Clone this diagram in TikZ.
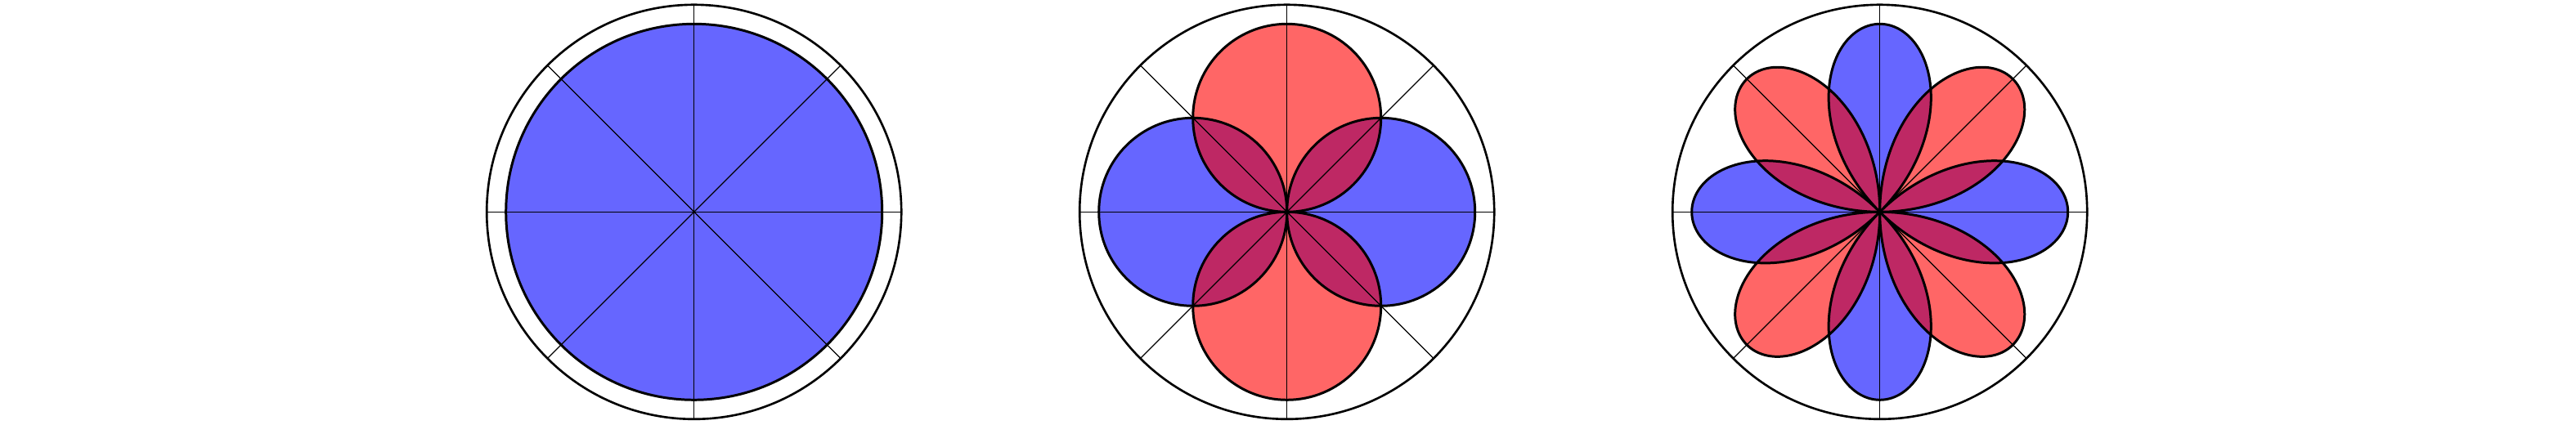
\documentclass[tikz,border=0pt]{standalone}
\definecolor{lobeblue}{RGB}{102,102,255}
\definecolor{lobered}{RGB}{255,102,102}
\definecolor{lobemix}{RGB}{190,40,100}
\begin{document}
\begin{tikzpicture}[
  outer/.style={line width=0.75pt},
  lobe/.style={line width=0.85pt, line join=round},
  axisline/.style={line width=0.35pt},
  qlobe/.style={insert path={plot[domain=-45:45,samples=121,smooth,variable=\t] ({\R*cos(2*\t)*cos(\t+#1)},{\R*cos(2*\t)*sin(\t+#1)})}},
  bluequad/.style={qlobe=0,qlobe=90,qlobe=180,qlobe=270},
  redquad/.style={qlobe=45,qlobe=135,qlobe=225,qlobe=315},
]
\def\R{2.3}
\def\Ro{2.535}
\useasboundingbox (0,0) rectangle (31.5,5.2);

% ---------- panel 1 ----------
\begin{scope}[shift={(8.487,2.607)}]
  \fill[lobeblue] (0,0) circle (\R);
  \draw[lobe] (0,0) circle (\R);
  \draw[outer] (0,0) circle (\Ro);
  \foreach \a in {0,45,90,135} \draw[axisline] (\a:\Ro) -- (\a+180:\Ro);
\end{scope}

% ---------- panel 2 ----------
\begin{scope}[shift={(15.737,2.607)}]
  \fill[lobeblue] (\R/2,0) circle (\R/2) (-\R/2,0) circle (\R/2);
  \fill[lobered] (0,\R/2) circle (\R/2) (0,-\R/2) circle (\R/2);
  \begin{scope}
    \clip (\R/2,0) circle (\R/2) (-\R/2,0) circle (\R/2);
    \fill[lobemix] (0,\R/2) circle (\R/2) (0,-\R/2) circle (\R/2);
  \end{scope}
  \draw[lobe] (\R/2,0) circle (\R/2) (-\R/2,0) circle (\R/2)
              (0,\R/2) circle (\R/2) (0,-\R/2) circle (\R/2);
  \draw[outer] (0,0) circle (\Ro);
  \foreach \a in {0,45,90,135} \draw[axisline] (\a:\Ro) -- (\a+180:\Ro);
\end{scope}

% ---------- panel 3 ----------
\begin{scope}[shift={(22.987,2.607)}]
  \fill[lobeblue, bluequad];
  \fill[lobered, redquad];
  \begin{scope}
    \clip[bluequad];
    \fill[lobemix, redquad];
  \end{scope}
  \draw[lobe, bluequad];
  \draw[lobe, redquad];
  \draw[outer] (0,0) circle (\Ro);
  \foreach \a in {0,45,90,135} \draw[axisline] (\a:\Ro) -- (\a+180:\Ro);
\end{scope}
\end{tikzpicture}
\end{document}
